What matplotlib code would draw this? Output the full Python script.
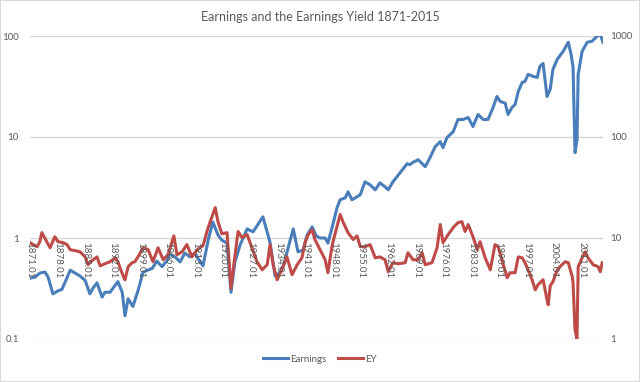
import matplotlib.pyplot as plt
from matplotlib.patches import Rectangle

# Earnings (left axis, log)
earn_years = [1871.0, 1872.3, 1873.5, 1874.8, 1875.6, 1876.8, 1878.1, 1879.1, 1880.1, 1881.2,
              1882.4, 1883.7, 1885.0, 1886.2, 1887.0, 1888.0, 1889.3, 1890.0, 1891.3, 1892.6,
              1893.3, 1894.4, 1895.1, 1895.9, 1897.1, 1898.4, 1899.7, 1902.0, 1903.2, 1904.5,
              1905.8, 1906.5, 1907.8, 1909.1, 1910.3, 1911.6, 1912.9, 1913.6, 1914.9, 1916.2,
              1917.4, 1918.7, 1919.7, 1921.0, 1922.0, 1923.0, 1924.3, 1926.1, 1927.6, 1930.1,
              1931.9, 1933.2, 1934.5, 1935.5, 1936.5, 1937.8, 1939.0, 1940.3, 1941.3, 1942.6,
              1943.6, 1944.6, 1945.9, 1946.6, 1947.7, 1948.9, 1949.7, 1951.0, 1951.7, 1952.7,
              1954.0, 1954.8, 1956.0, 1957.3, 1958.6, 1959.8, 1961.1, 1961.9, 1963.1, 1964.9,
              1966.7, 1967.4, 1968.0, 1969.5, 1971.3, 1972.5, 1973.8, 1975.1, 1975.8, 1976.8,
              1978.4, 1979.6, 1980.9, 1982.2, 1983.4, 1984.7, 1986.0, 1987.2, 1988.3, 1989.5,
              1990.3, 1991.6, 1992.3, 1993.3, 1994.1, 1994.9, 1995.9, 1996.6, 1997.4, 1998.7,
              1999.7, 2000.4, 2001.2, 2002.2, 2003.0, 2003.7, 2004.8, 2006.3, 2007.6, 2008.3,
              2008.8, 2009.3, 2009.8, 2010.1, 2011.1, 2012.4, 2013.6, 2014.9, 2015.7, 2016.4]
earnings = [0.40, 0.41, 0.45, 0.46, 0.41, 0.28, 0.30, 0.31, 0.38, 0.48,
            0.45, 0.42, 0.38, 0.28, 0.32, 0.36, 0.26, 0.29, 0.29, 0.34,
            0.37, 0.29, 0.17, 0.25, 0.21, 0.30, 0.46, 0.50, 0.59, 0.52,
            0.60, 0.69, 0.65, 0.58, 0.71, 0.65, 0.71, 0.63, 0.53, 0.95,
            1.44, 1.07, 0.95, 0.89, 0.29, 0.58, 0.85, 1.23, 1.15, 1.62,
            0.91, 0.42, 0.46, 0.56, 0.80, 1.23, 0.73, 0.76, 1.07, 1.29,
            1.05, 1.00, 1.00, 0.89, 1.29, 1.99, 2.39, 2.50, 2.87, 2.39,
            2.56, 2.68, 3.60, 3.36, 3.00, 3.52, 3.21, 3.00, 3.60, 4.43,
            5.44, 5.31, 5.56, 5.96, 5.08, 6.24, 8.0, 9.0, 7.85, 9.85,
            11.3, 14.9, 14.9, 15.6, 12.7, 16.7, 14.9, 14.9, 18.7, 25.2,
            22.5, 21.6, 16.7, 19.6, 21.0, 28.3, 34.7, 35.5, 41.7, 39.8,
            38.9, 50.1, 53.5, 25.2, 29.6, 46.8, 58.8, 70.5, 86.7, 65.7,
            49.1, 7.0, 9.4, 41.7, 70.5, 86.7, 88.6, 99.5, 104.0, 86.7]

# Earnings yield (right axis, log)
ey_years = [1871.0, 1871.8, 1872.8, 1873.5, 1874.0, 1874.8, 1876.1, 1877.3, 1878.1, 1879.4,
            1880.4, 1881.2, 1882.4, 1883.7, 1885.0, 1885.7, 1886.7, 1888.0, 1888.8, 1890.0,
            1891.3, 1892.6, 1893.3, 1894.6, 1895.1, 1895.9, 1896.9, 1897.6, 1898.4, 1899.7,
            1901.0, 1902.2, 1903.5, 1904.8, 1906.0, 1907.5, 1908.3, 1909.6, 1910.8, 1912.1,
            1913.4, 1914.9, 1916.2, 1917.2, 1918.0, 1918.7, 1919.7, 1921.0, 1922.0, 1923.0,
            1923.8, 1924.8, 1926.1, 1927.3, 1928.6, 1929.9, 1931.2, 1931.9, 1932.7, 1933.7,
            1935.0, 1936.2, 1937.5, 1938.8, 1940.0, 1940.8, 1941.6, 1942.6, 1943.3, 1944.6,
            1945.9, 1946.6, 1947.7, 1948.9, 1949.7, 1950.5, 1951.7, 1953.0, 1954.0, 1954.8,
            1956.0, 1957.3, 1958.6, 1959.8, 1961.1, 1961.9, 1963.1, 1964.4, 1966.2, 1966.9,
            1968.2, 1969.5, 1970.5, 1971.3, 1973.0, 1974.3, 1975.1, 1975.8, 1977.1, 1978.4,
            1979.6, 1980.6, 1981.4, 1982.2, 1983.4, 1984.5, 1985.2, 1986.5, 1987.8, 1989.0,
            1989.8, 1991.1, 1992.1, 1992.8, 1994.1, 1994.9, 1995.9, 1996.6, 1997.4, 1998.4,
            1999.2, 1999.9, 2001.2, 2002.2, 2002.5, 2003.0, 2003.7, 2004.8, 2006.0, 2006.8,
            2007.6, 2008.6, 2008.8, 2009.3, 2009.8, 2010.1, 2011.1, 2011.9, 2012.6, 2013.9,
            2015.2, 2015.7, 2016.2]
ey = [9.0, 8.6, 8.2, 9.2, 11.3, 9.9, 8.0, 10.3, 9.2, 9.0,
      8.6, 7.66, 7.5, 7.3, 6.5, 5.44, 5.95, 6.5, 5.3, 5.56,
      5.82, 6.36, 5.82, 4.23, 3.86, 5.19, 5.69, 5.82, 6.5, 8.0,
      7.66, 5.82, 8.0, 6.09, 6.83, 10.5, 6.83, 7.3, 8.6, 6.5,
      7.66, 8.4, 12.7, 16.3, 20.0, 14.5, 11.0, 11.3, 3.2, 6.7,
      11.6, 10.1, 10.8, 8.0, 5.82, 4.85, 5.44, 8.6, 5.44, 3.86,
      4.95, 6.5, 4.33, 5.44, 6.36, 9.0, 10.8, 12.1, 9.65, 7.66,
      6.09, 4.53, 8.6, 13.0, 17.1, 14.2, 11.3, 9.65, 10.5, 8.2,
      8.2, 8.6, 6.36, 6.5, 6.09, 4.63, 5.69, 5.56, 5.69, 7.14,
      6.09, 6.09, 7.14, 5.44, 5.69, 8.0, 13.6, 9.0, 10.8, 12.7,
      14.2, 14.5, 11.6, 13.6, 10.3, 7.66, 9.2, 6.36, 4.85, 8.6,
      8.2, 5.44, 4.04, 4.53, 4.53, 6.5, 6.36, 5.69, 4.85, 3.86,
      3.07, 3.44, 3.86, 2.44, 2.18, 3.36, 3.69, 4.85, 5.44, 5.82,
      5.69, 4.13, 3.60, 1.23, 1.0, 5.19, 6.36, 7.3, 6.36, 5.44,
      5.19, 4.63, 5.69]

tick_years = list(range(1871, 2012, 7))
tick_labels = [f"{y}.01" for y in tick_years]

BLUE = "#4a7ebb"
RED = "#be4b48"
GRAY = "#595959"
GRID = "#d9d9d9"

plt.rcParams["font.family"] = ["Lato", "DejaVu Sans"]

fig = plt.figure(figsize=(6.4, 3.82), dpi=100)
fig.patches.append(Rectangle((0, 0), 1, 1, transform=fig.transFigure, fill=False,
                             edgecolor=GRID, linewidth=1.5))

ax = fig.add_axes([30 / 640, 1 - 339 / 382, 573 / 640, 303 / 382])
ax2 = ax.twinx()

ax.set_yscale("log")
ax.set_ylim(0.1, 100)
ax.set_xlim(1871, 2016.4)
ax2.set_yscale("log")
ax2.set_ylim(1, 1000)

for a in (ax, ax2):
    for s in a.spines.values():
        s.set_visible(False)
    a.tick_params(axis="y", which="both", length=0, labelsize=7, labelcolor=GRAY)
    a.yaxis.set_minor_locator(plt.NullLocator())
ax.set_yticks([0.1, 1, 10, 100])
ax.set_yticklabels(["0.1", "1", "10", "100"])
ax2.set_yticks([1, 10, 100, 1000])
ax2.set_yticklabels(["1", "10", "100", "1000"])
ax.tick_params(axis="y", pad=8)
ax2.tick_params(axis="y", pad=5)
ax.set_xticks([])
ax.grid(axis="y", color=GRID, linewidth=1)

ax.plot(earn_years, earnings, color=BLUE, linewidth=2.2, solid_joinstyle="round")
ax2.plot(ey_years, ey, color=RED, linewidth=2.2, solid_joinstyle="round")

for yr, lab in zip(tick_years, tick_labels):
    ax2.annotate(lab, (yr, 10), xytext=(0, -3), textcoords="offset points",
                 rotation=270, ha="center", va="top", fontsize=7, color=GRAY)

fig.text(0.5, 1 - 17 / 382, "Earnings and the Earnings Yield 1871-2015",
         ha="center", va="center", fontsize=9, color=GRAY)

h1, = ax.plot([], [], color=BLUE, linewidth=2.2)
h2, = ax.plot([], [], color=RED, linewidth=2.2)
fig.legend([h1, h2], ["Earnings", "EY"], loc="center", bbox_to_anchor=(0.5, 1 - 359 / 382),
           ncol=2, frameon=False, fontsize=7, handlelength=2.6, handletextpad=0.2,
           columnspacing=1.2, labelcolor=GRAY)

fig.savefig("out.png", dpi=100)
